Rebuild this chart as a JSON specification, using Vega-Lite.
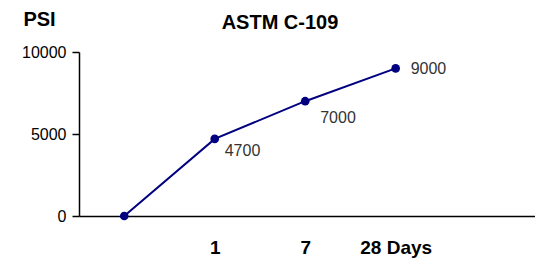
{
  "$schema": "https://vega.github.io/schema/vega-lite/v6.json",
  "width": 456,
  "height": 164,
  "autosize": "none",
  "padding": {"left": 79, "top": 52, "right": 0, "bottom": 44},
  "background": "white",
  "config": {
    "view": {"stroke": null},
    "font": "Liberation Sans"
  },
  "title": {
    "text": "ASTM C-109",
    "anchor": "middle",
    "frame": "group",
    "dx": -27,
    "offset": -24,
    "fontSize": 20,
    "fontWeight": "bold",
    "color": "black",
    "font": "Liberation Sans"
  },
  "data": {
    "values": [
      {"idx": 0, "day": "0", "psi": 0},
      {"idx": 1, "day": "1", "psi": 4700},
      {"idx": 2, "day": "7", "psi": 7000},
      {"idx": 3, "day": "28", "psi": 9000}
    ]
  },
  "encoding": {
    "x": {
      "field": "idx",
      "type": "quantitative",
      "scale": {"domain": [-0.5, 4.54], "nice": false, "zero": false},
      "axis": {
        "title": null,
        "values": [1, 2, 3],
        "labelExpr": "datum.value == 1 ? '1' : datum.value == 2 ? '7' : datum.value == 3 ? '28 Days' : ''",
        "ticks": false,
        "grid": false,
        "domainColor": "black",
        "domainWidth": 1.5,
        "labelFontSize": 19,
        "labelFontWeight": "bold",
        "labelColor": "black",
        "labelPadding": 22,
        "labelFont": "Liberation Sans"
      }
    },
    "y": {
      "field": "psi",
      "type": "quantitative",
      "scale": {"domain": [0, 10000], "nice": false},
      "axis": {
        "title": "PSI",
        "titleAngle": 0,
        "titleX": -40,
        "titleY": -33,
        "titleAlign": "center",
        "titleBaseline": "middle",
        "titleFontSize": 20,
        "titleFontWeight": "bold",
        "titleColor": "black",
        "titleFont": "Liberation Sans",
        "values": [0, 5000, 10000],
        "format": "d",
        "grid": false,
        "domainColor": "black",
        "domainWidth": 1.5,
        "tickColor": "black",
        "tickWidth": 1.5,
        "tickSize": 7,
        "labelFontSize": 16,
        "labelColor": "black",
        "labelPadding": 6,
        "labelFont": "Liberation Sans"
      }
    }
  },
  "layer": [
    {"mark": {"type": "line", "color": "#000080", "strokeWidth": 2}},
    {"mark": {"type": "point", "filled": true, "color": "#000080", "opacity": 1, "size": 75}},
    {
      "transform": [{"filter": "datum.idx == 1"}],
      "mark": {"type": "text", "align": "left", "baseline": "middle", "dx": 10, "dy": 12, "fontSize": 16, "color": "#333333"},
      "encoding": {"text": {"field": "psi", "type": "quantitative", "format": "d"}}
    },
    {
      "transform": [{"filter": "datum.idx == 2"}],
      "mark": {"type": "text", "align": "left", "baseline": "middle", "dx": 15, "dy": 17, "fontSize": 16, "color": "#333333"},
      "encoding": {"text": {"field": "psi", "type": "quantitative", "format": "d"}}
    },
    {
      "transform": [{"filter": "datum.idx == 3"}],
      "mark": {"type": "text", "align": "left", "baseline": "middle", "dx": 15, "dy": 1, "fontSize": 16, "color": "#333333"},
      "encoding": {"text": {"field": "psi", "type": "quantitative", "format": "d"}}
    }
  ]
}
